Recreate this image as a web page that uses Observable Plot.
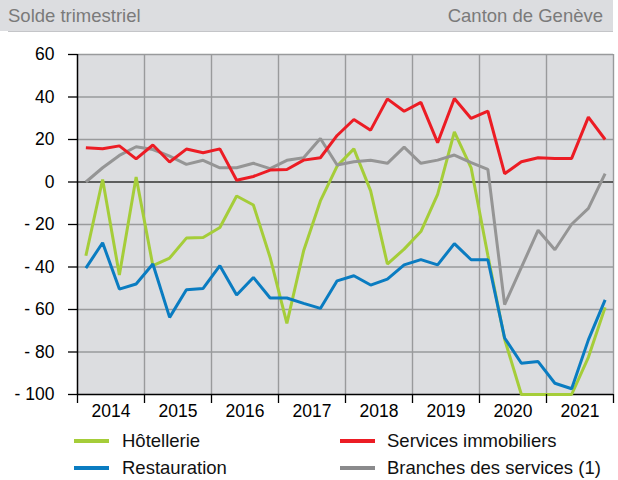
<!DOCTYPE html>
<html>
<head>
<meta charset="utf-8">
<script src="https://cdn.jsdelivr.net/npm/d3@7"></script>
<script src="https://cdn.jsdelivr.net/npm/@observablehq/plot@0.6"></script>
<style>
  html, body { margin: 0; padding: 0; background: #fff; }
  body { width: 618px; height: 480px; position: relative; overflow: hidden;
         font-family: "Liberation Sans", Arial, sans-serif; }
  #band { position: absolute; left: 0; top: 0; width: 613px; height: 31px; background: #dcdde0; }
  #bandline { position: absolute; left: 8px; top: 31px; width: 605px; height: 1px; background: #c4c5c8; }
  .hdr { position: absolute; top: 4px; font-size: 18.5px; color: #7a7a7a; line-height: 24px; white-space: nowrap; }
  #chart { position: absolute; left: 0; top: 31px; }
  .sw { position: absolute; width: 35px; height: 4px; }
  .lg { position: absolute; font-size: 18.5px; line-height: 22px; color: #111; white-space: nowrap; }
</style>
</head>
<body>
<div id="band"></div>
<div id="bandline"></div>
<div class="hdr" style="left:8px;">Solde trimestriel</div>
<div class="hdr" style="right:15px;">Canton de Genève</div>
<div id="chart"></div>
<div id="legend"></div>
<script>
// ---- Data (quarterly, 2014 Q1 – 2021 Q4) ----
const years = [2014, 2015, 2016, 2017, 2018, 2019, 2020, 2021];
const yTicks = [60, 40, 20, 0, -20, -40, -60, -80, -100];

const hotellerie = [-34.7, 1.2, -43.8, 2.3, -39.4, -35.8, -26.4, -26.1,
                    -21.4, -6.6, -10.8, -35.5, -66.5, -32.4, -8.9, 7.5,
                    15.6, -4.2, -38.6, -31.6, -23.3, -5.8, 23.6, 6.7,
                    -34.6, -74, -100, -100, -100, -100, -82.5, -59];
const restauration = [-40.5, -28.6, -50.4, -48, -38.6, -63.7, -50.7, -50.1,
                      -39.4, -53.2, -44.9, -54.6, -54.6, -57.1, -59.5, -46.5,
                      -44.1, -48.5, -45.7, -39, -36.5, -39, -29, -36.6,
                      -36.6, -73.4, -85.3, -84.5, -94.7, -97.3, -74.3, -55.5];
const immobiliers = [16.1, 15.6, 17, 10.9, 17.4, 9.4, 15.5, 13.8,
                     15.6, 0.8, 2.6, 5.6, 5.9, 10.3, 11.4, 21.9,
                     29.4, 24.4, 39.1, 33.3, 37.5, 18.5, 39.3, 29.9,
                     33.3, 3.9, 9.5, 11.4, 11.1, 11.1, 30.5, 20];
const services = [0, 6.7, 12.5, 16.6, 15.3, 12.2, 8.3, 10.2,
                  6.7, 6.7, 8.8, 6.3, 10.2, 11.4, 20.5, 8,
                  9.5, 10.2, 8.8, 16.4, 8.8, 10.3, 12.7, 9.1,
                  5.9, -57.7, -40.2, -22.7, -31.9, -19.9, -12.4, 3.9];

const seriesNames = ["Hôtellerie", "Restauration", "Services immobiliers", "Branches des services (1)"];
const seriesColors = ["#a5cd39", "#0a7cc1", "#ec1c24", "#959595"];
const seriesValues = [hotellerie, restauration, immobiliers, services];

// ---- Build table ----
const rows = seriesValues.flatMap((vals, s) =>
  vals.map((v, i) => ({ series: seriesNames[s], t: years[0] + (i + 0.5) / 4, v })));

const lineOpts = (name, color) => Plot.line(rows.filter(d => d.series === name), {
  x: "t", y: "v", stroke: color, strokeWidth: 3, strokeLinejoin: "miter", strokeLinecap: "butt"
});

const yearBounds = d3.range(years[0], years[years.length - 1] + 2);

const chart = Plot.plot({
  width: 618,
  height: 390,
  marginTop: 23,
  marginBottom: 27,
  marginLeft: 77,
  marginRight: 5,
  style: { fontFamily: "'Liberation Sans', Arial, sans-serif", fontSize: "17.5px", color: "#000", background: "transparent", overflow: "visible" },
  x: { domain: [years[0], years[years.length - 1] + 1] },
  y: { domain: [-100, 60] },
  marks: [
    Plot.frame({ fill: "#dcdde0", stroke: null }),
    Plot.ruleY(yTicks.filter(d => d !== 0 && d !== -100), { stroke: "#999a9c", strokeWidth: 1.4 }),
    Plot.ruleX(yearBounds.slice(1), { stroke: "#999a9c", strokeWidth: 1.4 }),
    Plot.ruleY([0], { stroke: "#333", strokeWidth: 1.5 }),
    Plot.ruleX([years[0]], { stroke: "#000", strokeWidth: 1.5 }),
    Plot.ruleY([-100], { stroke: "#000", strokeWidth: 1.5 }),
    lineOpts(seriesNames[0], seriesColors[0]),
    lineOpts(seriesNames[3], seriesColors[3]),
    lineOpts(seriesNames[2], seriesColors[2]),
    lineOpts(seriesNames[1], seriesColors[1]),
    Plot.axisY(yTicks, {
      tickSize: 9, tickPadding: 14, stroke: "#000", strokeWidth: 1.3, label: null,
      tickFormat: d => d < 0 ? "- " + Math.abs(d) : String(d)
    }),
    Plot.axisX(yearBounds, { tickSize: 9, stroke: "#000", strokeWidth: 1.3, tickFormat: () => "", label: null }),
    Plot.axisX(years.map(y => y + 0.5), { tickSize: 0, tickPadding: 10, tickFormat: d => String(Math.floor(d)), label: null })
  ]
});
document.getElementById("chart").appendChild(chart);

// ---- Legend ----
const legend = document.getElementById("legend");
const legendPos = [
  { sx: 74, tx: 122, y: 441 },
  { sx: 74, tx: 122, y: 468 },
  { sx: 340, tx: 387, y: 441 },
  { sx: 340, tx: 387, y: 468 }
];
seriesNames.forEach((name, i) => {
  const p = legendPos[i];
  const sw = document.createElement("div");
  sw.className = "sw";
  sw.style.left = p.sx + "px";
  sw.style.top = (p.y - 2) + "px";
  sw.style.background = i === 3 ? "#8a8a8c" : seriesColors[i];
  legend.appendChild(sw);
  const t = document.createElement("div");
  t.className = "lg";
  t.style.left = p.tx + "px";
  t.style.top = (p.y - 11) + "px";
  t.textContent = name;
  legend.appendChild(t);
});
</script>
</body>
</html>
